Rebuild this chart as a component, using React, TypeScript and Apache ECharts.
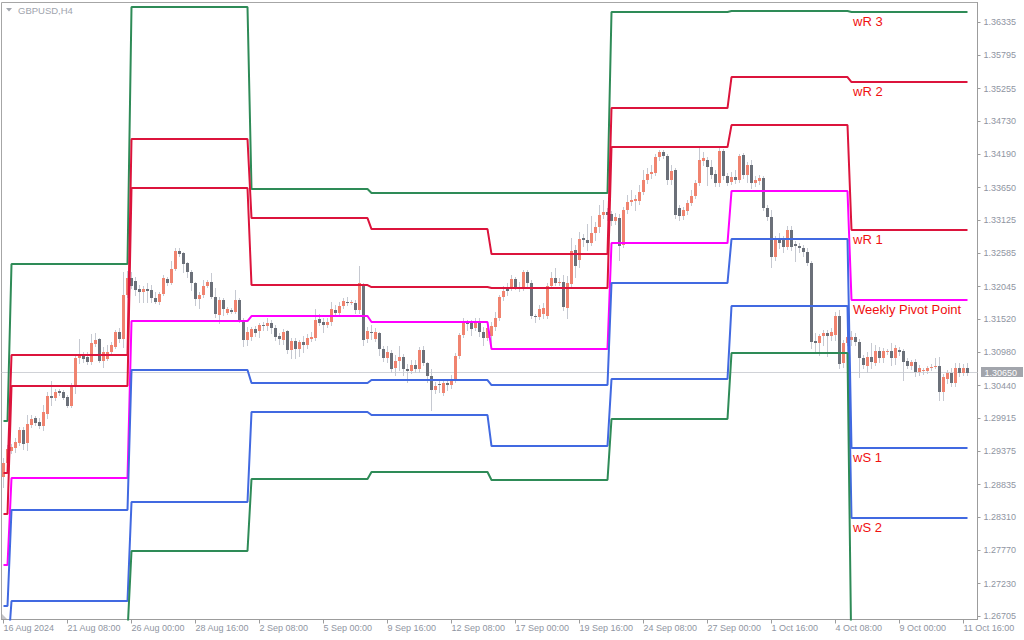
import React, { useEffect, useRef } from "react";
import * as echarts from "echarts";

// ---- time axis pieces ----
const tradingDays = ["16 Aug", "19 Aug", "20 Aug", "21 Aug", "22 Aug", "23 Aug", "26 Aug", "27 Aug", "28 Aug", "29 Aug", "30 Aug", "2 Sep", "3 Sep", "4 Sep", "5 Sep", "6 Sep", "9 Sep", "10 Sep", "11 Sep", "12 Sep", "13 Sep", "16 Sep", "17 Sep", "18 Sep", "19 Sep", "20 Sep", "23 Sep", "24 Sep", "25 Sep", "26 Sep", "27 Sep", "30 Sep", "1 Oct", "2 Oct", "3 Oct", "4 Oct", "7 Oct", "8 Oct", "9 Oct", "10 Oct", "11 Oct"];
const barHours = ["00:00", "04:00", "08:00", "12:00", "16:00", "20:00"];
const firstDayHours = ["16:00", "20:00"];
const firstLabel = "16 Aug 2024";
const emptySlots = ["", ""];

// ---- GBPUSD H4 candles ----
const opens = [
  1.2896, 1.2919, 1.2938, 1.2943, 1.2951, 1.2972, 1.2951, 1.2980, 1.2992, 1.2985,
  1.2979, 1.2998, 1.3027, 1.3024, 1.3035, 1.3034, 1.3026, 1.3011, 1.3042, 1.3089,
  1.3092, 1.3090, 1.3082, 1.3111, 1.3120, 1.3084, 1.3087, 1.3099, 1.3107, 1.3131,
  1.3120, 1.3191, 1.3219, 1.3214, 1.3201, 1.3196, 1.3201, 1.3199, 1.3186, 1.3180,
  1.3193, 1.3217, 1.3210, 1.3233, 1.3262, 1.3259, 1.3243, 1.3228, 1.3210, 1.3184,
  1.3191, 1.3206, 1.3212, 1.3188, 1.3159, 1.3183, 1.3162, 1.3167, 1.3163, 1.3183,
  1.3149, 1.3118, 1.3123, 1.3136, 1.3133, 1.3142, 1.3141, 1.3146, 1.3137, 1.3124,
  1.3118, 1.3133, 1.3102, 1.3116, 1.3103, 1.3115, 1.3110, 1.3120, 1.3121, 1.3152,
  1.3147, 1.3142, 1.3147, 1.3167, 1.3162, 1.3173, 1.3180, 1.3178, 1.3178, 1.3167,
  1.3209, 1.3120, 1.3131, 1.3120, 1.3129, 1.3103, 1.3089, 1.3097, 1.3073, 1.3084,
  1.3090, 1.3071, 1.3068, 1.3077, 1.3071, 1.3102, 1.3081, 1.3060, 1.3037, 1.3047,
  1.3032, 1.3048, 1.3045, 1.3053, 1.3092, 1.3126, 1.3146, 1.3146, 1.3137, 1.3149,
  1.3131, 1.3121, 1.3125, 1.3139, 1.3154, 1.3188, 1.3201, 1.3204, 1.3217, 1.3204,
  1.3202, 1.3228, 1.3210, 1.3157, 1.3155, 1.3160, 1.3157, 1.3206, 1.3219, 1.3210,
  1.3212, 1.3170, 1.3209, 1.3264, 1.3248, 1.3283, 1.3280, 1.3275, 1.3292, 1.3301,
  1.3321, 1.3326, 1.3322, 1.3311, 1.3316, 1.3272, 1.3329, 1.3342, 1.3343, 1.3343,
  1.3358, 1.3377, 1.3387, 1.3389, 1.3415, 1.3423, 1.3416, 1.3377, 1.3394, 1.3332,
  1.3319, 1.3327, 1.3340, 1.3352, 1.3373, 1.3408, 1.3410, 1.3398, 1.3387, 1.3373,
  1.3424, 1.3384, 1.3374, 1.3382, 1.3377, 1.3418, 1.3386, 1.3402, 1.3373, 1.3376,
  1.3381, 1.3332, 1.3317, 1.3253, 1.3283, 1.3280, 1.3269, 1.3296, 1.3274, 1.3270,
  1.3267, 1.3261, 1.3243, 1.3116, 1.3113, 1.3124, 1.3129, 1.3124, 1.3126, 1.3157,
  1.3081, 1.3113, 1.3118, 1.3123, 1.3115, 1.3089, 1.3076, 1.3090, 1.3081, 1.3100,
  1.3089, 1.3099, 1.3100, 1.3089, 1.3102, 1.3100, 1.3084, 1.3076, 1.3082, 1.3066,
  1.3068, 1.3068, 1.3073, 1.3074, 1.3076, 1.3034, 1.3055, 1.3065, 1.3048, 1.3073,
  1.3065, 1.3073,
];
const highs = [
  1.2927, 1.2948, 1.2949, 1.2959, 1.2977, 1.2977, 1.2997, 1.2997, 1.2995, 1.2992,
  1.3013, 1.3034, 1.3052, 1.3039, 1.3039, 1.3037, 1.3029, 1.3048, 1.3094, 1.3120,
  1.3099, 1.3099, 1.3128, 1.3129, 1.3121, 1.3107, 1.3110, 1.3115, 1.3134, 1.3137,
  1.3228, 1.3230, 1.3228, 1.3220, 1.3207, 1.3206, 1.3210, 1.3207, 1.3196, 1.3196,
  1.3223, 1.3220, 1.3246, 1.3267, 1.3267, 1.3261, 1.3244, 1.3232, 1.3212, 1.3196,
  1.3215, 1.3215, 1.3227, 1.3202, 1.3188, 1.3186, 1.3172, 1.3170, 1.3199, 1.3186,
  1.3154, 1.3139, 1.3139, 1.3141, 1.3146, 1.3147, 1.3154, 1.3150, 1.3142, 1.3129,
  1.3136, 1.3134, 1.3121, 1.3121, 1.3118, 1.3124, 1.3128, 1.3131, 1.3168, 1.3160,
  1.3154, 1.3154, 1.3180, 1.3175, 1.3180, 1.3186, 1.3188, 1.3183, 1.3183, 1.3238,
  1.3210, 1.3139, 1.3142, 1.3137, 1.3131, 1.3108, 1.3108, 1.3102, 1.3094, 1.3108,
  1.3095, 1.3079, 1.3086, 1.3086, 1.3107, 1.3108, 1.3082, 1.3071, 1.3050, 1.3053,
  1.3053, 1.3052, 1.3061, 1.3097, 1.3129, 1.3154, 1.3150, 1.3150, 1.3154, 1.3154,
  1.3139, 1.3147, 1.3147, 1.3163, 1.3191, 1.3206, 1.3210, 1.3223, 1.3220, 1.3212,
  1.3232, 1.3232, 1.3215, 1.3160, 1.3175, 1.3178, 1.3210, 1.3228, 1.3235, 1.3219,
  1.3223, 1.3222, 1.3283, 1.3272, 1.3293, 1.3290, 1.3306, 1.3319, 1.3309, 1.3337,
  1.3345, 1.3332, 1.3327, 1.3324, 1.3322, 1.3334, 1.3353, 1.3361, 1.3353, 1.3369,
  1.3394, 1.3397, 1.3402, 1.3420, 1.3426, 1.3426, 1.3420, 1.3402, 1.3397, 1.3337,
  1.3334, 1.3345, 1.3361, 1.3377, 1.3431, 1.3423, 1.3415, 1.3410, 1.3394, 1.3429,
  1.3428, 1.3389, 1.3390, 1.3394, 1.3420, 1.3421, 1.3407, 1.3410, 1.3384, 1.3386,
  1.3384, 1.3337, 1.3329, 1.3287, 1.3292, 1.3287, 1.3303, 1.3303, 1.3279, 1.3275,
  1.3272, 1.3267, 1.3246, 1.3129, 1.3128, 1.3134, 1.3134, 1.3137, 1.3163, 1.3167,
  1.3118, 1.3129, 1.3133, 1.3129, 1.3120, 1.3094, 1.3099, 1.3113, 1.3110, 1.3107,
  1.3105, 1.3103, 1.3113, 1.3110, 1.3107, 1.3103, 1.3089, 1.3086, 1.3087, 1.3077,
  1.3073, 1.3076, 1.3079, 1.3089, 1.3090, 1.3063, 1.3069, 1.3073, 1.3081, 1.3081,
  1.3079, 1.3081,
];
const lows = [
  1.2880, 1.2915, 1.2935, 1.2936, 1.2948, 1.2941, 1.2940, 1.2977, 1.2980, 1.2975,
  1.2972, 1.2992, 1.3013, 1.3021, 1.3029, 1.3022, 1.3010, 1.3010, 1.3032, 1.3081,
  1.3082, 1.3079, 1.3079, 1.3108, 1.3082, 1.3074, 1.3086, 1.3095, 1.3105, 1.3115,
  1.3107, 1.3188, 1.3202, 1.3191, 1.3180, 1.3180, 1.3180, 1.3180, 1.3178, 1.3176,
  1.3191, 1.3207, 1.3209, 1.3232, 1.3254, 1.3228, 1.3220, 1.3199, 1.3175, 1.3170,
  1.3188, 1.3204, 1.3186, 1.3155, 1.3146, 1.3159, 1.3160, 1.3162, 1.3162, 1.3147,
  1.3108, 1.3110, 1.3118, 1.3124, 1.3123, 1.3134, 1.3134, 1.3129, 1.3118, 1.3111,
  1.3111, 1.3097, 1.3089, 1.3089, 1.3092, 1.3099, 1.3105, 1.3116, 1.3118, 1.3142,
  1.3131, 1.3139, 1.3142, 1.3157, 1.3159, 1.3170, 1.3175, 1.3176, 1.3162, 1.3162,
  1.3110, 1.3115, 1.3120, 1.3116, 1.3094, 1.3084, 1.3082, 1.3066, 1.3061, 1.3069,
  1.3061, 1.3050, 1.3065, 1.3066, 1.3066, 1.3077, 1.3050, 1.3005, 1.3032, 1.3034,
  1.3029, 1.3037, 1.3040, 1.3050, 1.3089, 1.3123, 1.3134, 1.3126, 1.3134, 1.3124,
  1.3110, 1.3118, 1.3110, 1.3134, 1.3150, 1.3183, 1.3191, 1.3199, 1.3201, 1.3197,
  1.3199, 1.3206, 1.3154, 1.3147, 1.3152, 1.3154, 1.3154, 1.3202, 1.3207, 1.3207,
  1.3167, 1.3154, 1.3206, 1.3220, 1.3236, 1.3270, 1.3264, 1.3272, 1.3280, 1.3293,
  1.3316, 1.3313, 1.3305, 1.3306, 1.3248, 1.3269, 1.3324, 1.3337, 1.3329, 1.3339,
  1.3355, 1.3373, 1.3381, 1.3386, 1.3410, 1.3413, 1.3371, 1.3371, 1.3316, 1.3313,
  1.3314, 1.3322, 1.3337, 1.3348, 1.3369, 1.3402, 1.3369, 1.3381, 1.3368, 1.3368,
  1.3379, 1.3369, 1.3371, 1.3373, 1.3374, 1.3381, 1.3374, 1.3364, 1.3368, 1.3371,
  1.3329, 1.3313, 1.3236, 1.3248, 1.3267, 1.3261, 1.3266, 1.3264, 1.3246, 1.3261,
  1.3254, 1.3240, 1.3105, 1.3099, 1.3094, 1.3110, 1.3092, 1.3118, 1.3118, 1.3073,
  1.3074, 1.3110, 1.3110, 1.3110, 1.3058, 1.3073, 1.3066, 1.3073, 1.3077, 1.3082,
  1.3082, 1.3095, 1.3077, 1.3079, 1.3094, 1.3053, 1.3073, 1.3071, 1.3060, 1.3061,
  1.3063, 1.3065, 1.3069, 1.3073, 1.3021, 1.3021, 1.3048, 1.3044, 1.3044, 1.3060,
  1.3061, 1.3061,
];
const closes = [
  1.2919, 1.2941, 1.2945, 1.2953, 1.2972, 1.2949, 1.2982, 1.2990, 1.2984, 1.2979,
  1.3001, 1.3027, 1.3024, 1.3034, 1.3032, 1.3024, 1.3011, 1.3045, 1.3089, 1.3092,
  1.3087, 1.3082, 1.3113, 1.3118, 1.3084, 1.3099, 1.3099, 1.3110, 1.3131, 1.3120,
  1.3191, 1.3219, 1.3206, 1.3199, 1.3196, 1.3201, 1.3197, 1.3186, 1.3180, 1.3193,
  1.3219, 1.3210, 1.3233, 1.3262, 1.3257, 1.3241, 1.3228, 1.3210, 1.3184, 1.3191,
  1.3206, 1.3212, 1.3188, 1.3160, 1.3183, 1.3168, 1.3168, 1.3163, 1.3183, 1.3150,
  1.3118, 1.3131, 1.3136, 1.3129, 1.3142, 1.3141, 1.3146, 1.3137, 1.3123, 1.3120,
  1.3131, 1.3102, 1.3116, 1.3103, 1.3115, 1.3110, 1.3121, 1.3123, 1.3150, 1.3146,
  1.3142, 1.3147, 1.3168, 1.3162, 1.3173, 1.3181, 1.3178, 1.3180, 1.3167, 1.3210,
  1.3118, 1.3133, 1.3129, 1.3131, 1.3103, 1.3089, 1.3099, 1.3071, 1.3084, 1.3090,
  1.3071, 1.3068, 1.3077, 1.3071, 1.3102, 1.3081, 1.3060, 1.3037, 1.3044, 1.3045,
  1.3048, 1.3045, 1.3053, 1.3092, 1.3126, 1.3146, 1.3144, 1.3136, 1.3147, 1.3131,
  1.3121, 1.3137, 1.3141, 1.3154, 1.3188, 1.3197, 1.3197, 1.3217, 1.3204, 1.3202,
  1.3228, 1.3210, 1.3157, 1.3155, 1.3168, 1.3170, 1.3206, 1.3219, 1.3210, 1.3212,
  1.3172, 1.3210, 1.3262, 1.3238, 1.3282, 1.3280, 1.3275, 1.3292, 1.3301, 1.3321,
  1.3326, 1.3321, 1.3311, 1.3317, 1.3270, 1.3329, 1.3342, 1.3345, 1.3347, 1.3358,
  1.3377, 1.3387, 1.3390, 1.3415, 1.3423, 1.3416, 1.3377, 1.3392, 1.3321, 1.3319,
  1.3329, 1.3340, 1.3352, 1.3373, 1.3410, 1.3413, 1.3398, 1.3386, 1.3373, 1.3424,
  1.3384, 1.3373, 1.3382, 1.3377, 1.3416, 1.3386, 1.3402, 1.3373, 1.3377, 1.3381,
  1.3332, 1.3317, 1.3253, 1.3283, 1.3275, 1.3269, 1.3296, 1.3269, 1.3270, 1.3267,
  1.3261, 1.3243, 1.3115, 1.3113, 1.3124, 1.3129, 1.3124, 1.3131, 1.3157, 1.3079,
  1.3113, 1.3123, 1.3123, 1.3115, 1.3089, 1.3077, 1.3090, 1.3082, 1.3100, 1.3089,
  1.3100, 1.3100, 1.3089, 1.3105, 1.3099, 1.3082, 1.3076, 1.3082, 1.3066, 1.3073,
  1.3069, 1.3073, 1.3074, 1.3076, 1.3034, 1.3058, 1.3065, 1.3048, 1.3073, 1.3065,
  1.3073, 1.3065,
];

// ---- weekly pivot levels (one value per week) ----
const weekStarts = [0, 2, 32, 62, 92, 122, 152, 182, 212];
const wR3 = [1.29866, 1.32412, 1.36578, 1.33628, 1.33563, 1.33563, 1.36497, 1.36513, 1.36497];
const wR2 = [1.29023, 1.30936, 1.34438, 1.33157, 1.32979, 1.32574, 1.34941, 1.35443, 1.35362];
const wR1 = [1.28359, 1.30434, 1.33644, 1.32071, 1.32039, 1.32023, 1.34308, 1.34665, 1.32963];
const wPP = [1.27532, 1.28942, 1.31488, 1.31569, 1.31471, 1.31034, 1.32752, 1.33595, 1.31828];
const wS1 = [1.26867, 1.28424, 1.30693, 1.30482, 1.30531, 1.30450, 1.32104, 1.32817, 1.29429];
const wS2 = [1.26040, 1.26948, 1.28553, 1.30012, 1.29964, 1.29461, 1.30547, 1.31731, 1.28294];
const wS3 = [1.25376, 1.26446, 1.27759, 1.28926, 1.29040, 1.28910, 1.29899, 1.30969, 1.25894];

// ---- price axis ----
const priceTicks = [1.26705, 1.2723, 1.2777, 1.2831, 1.28835, 1.29375, 1.29915, 1.3044, 1.3098, 1.3152, 1.32045, 1.32585, 1.33125, 1.3365, 1.3419, 1.3473, 1.35255, 1.35795, 1.36335];
const priceMin = 1.26649;
const priceMax = 1.36652;

const FONT = "'Liberation Sans', Arial, sans-serif";
const AXIS_GRAY = "#9c9c9c";
const LABEL_GRAY = "#8f95a2";
const BULL = "#f0836f";
const BEAR = "#6b7079";
const WICK = "#c6c9d1";
const TEXT_RED = "#f01010";

export default function App() {
  const ref = useRef<HTMLDivElement>(null);

  useEffect(() => {
    if (!ref.current) return;
    const chart = echarts.init(ref.current, null, { renderer: "svg" });

    const categories: string[] = [];
    tradingDays.forEach((d, di) => {
      (di === 0 ? firstDayHours : barHours).forEach((h) => categories.push(d + " " + h));
    });
    emptySlots.forEach((s) => categories.push(s));

    const candleData = opens.map((o, i) => [i, o, closes[i], lows[i], highs[i]]);

    const weekOf = (i: number) => {
      let w = 0;
      for (let k = 0; k < weekStarts.length; k++) if (i >= weekStarts[k]) w = k;
      return w;
    };
    const levelSeries = (levels: number[]) => opens.map((_, i) => levels[weekOf(i)]);
    const lastWeek = weekStarts.length - 1;
    const labelBar = weekStarts[lastWeek];

    const pivotDefs = [
      { name: "wR 3", levels: wR3, color: "#2e8b57", label: "wR 3" },
      { name: "wR 2", levels: wR2, color: "#dc143c", label: "wR 2" },
      { name: "wR 1", levels: wR1, color: "#dc143c", label: "wR 1" },
      { name: "Pivot", levels: wPP, color: "#ff00ff", label: "Weekly Pivot Point" },
      { name: "wS 1", levels: wS1, color: "#4169e1", label: "wS 1" },
      { name: "wS 2", levels: wS2, color: "#4169e1", label: "wS 2" },
      { name: "wS 3", levels: wS3, color: "#2e8b57", label: "wS 3" },
    ];

    const lastIndex = closes.length - 1;
    const lastPrice = closes[lastIndex];

    const pivotSeries = pivotDefs.map((p) => ({
      type: "line",
      name: p.name,
      data: levelSeries(p.levels),
      symbol: "none",
      z: 4,
      clip: true,
      lineStyle: { color: p.color, width: 2 },
      itemStyle: { color: p.color },
      markPoint: {
        silent: true,
        symbol: "circle",
        symbolSize: 1,
        itemStyle: { color: "rgba(0,0,0,0)" },
        data: [
          {
            coord: [categories[labelBar], p.levels[lastWeek]],
            label: {
              show: true,
              formatter: p.label,
              position: "right",
              distance: 1,
              offset: [0, 9],
              color: TEXT_RED,
              fontSize: 13,
              fontFamily: FONT,
              textBorderWidth: 0,
            },
          },
        ],
      },
    }));

    chart.setOption({
      animation: false,
      backgroundColor: "#ffffff",
      grid: {
        left: 1.5,
        right: 46.5,
        top: 2.5,
        bottom: 20.5,
        show: true,
        borderColor: "#a6a6a6",
        borderWidth: 1,
        backgroundColor: "#ffffff",
      },
      xAxis: {
        type: "category",
        data: categories,
        boundaryGap: true,
        axisLine: { show: true, lineStyle: { color: AXIS_GRAY, width: 1 } },
        axisTick: { show: true, interval: 15, alignWithLabel: true, length: 4, lineStyle: { color: AXIS_GRAY } },
        axisLabel: {
          interval: 15,
          color: LABEL_GRAY,
          fontSize: 9,
          fontFamily: FONT,
          align: "left",
          margin: 4,
          showMinLabel: true,
          formatter: (v: string, i: number) => (i === 0 ? firstLabel : v),
        },
        splitLine: { show: false },
      },
      yAxis: {
        type: "value",
        position: "right",
        min: priceMin,
        max: priceMax,
        scale: true,
        axisLine: { show: true, lineStyle: { color: AXIS_GRAY, width: 1 } },
        axisTick: { show: true, length: 3, customValues: priceTicks, lineStyle: { color: AXIS_GRAY } },
        axisLabel: {
          customValues: priceTicks,
          formatter: (v: number) => v.toFixed(5),
          color: LABEL_GRAY,
          fontSize: 9,
          fontFamily: FONT,
          margin: 6,
        },
        splitLine: { show: false },
      },
      graphic: [
        { type: "polygon", shape: { points: [[6, 8], [12, 8], [9, 11.5]] }, style: { fill: "#a3a7ae" } },
        { type: "text", x: 18, y: 10, style: { text: "GBPUSD,H4", fill: "#a0a4ad", font: "9.5px " + FONT, textVerticalAlign: "middle" } },
        { type: "polygon", shape: { points: [[2, 619], [2, 614], [7, 619]] }, style: { fill: "#c4c4c8" } },
      ],
      series: [
        {
          // current bid line with price tag
          type: "custom",
          name: "Bid",
          z: 1,
          clip: false,
          silent: true,
          data: [[lastIndex, lastPrice]],
          encode: { x: 0, y: 1 },
          renderItem: (params: any, api: any) => {
            const cs = params.coordSys;
            const p = api.coord([api.value(0), api.value(1)]);
            const y = Math.round(p[1] - 0.5) + 0.5;
            const right = cs.x + cs.width;
            return {
              type: "group",
              children: [
                {
                  type: "line",
                  shape: { x1: cs.x, y1: y, x2: right, y2: y },
                  style: { stroke: "#d0d2d7", lineWidth: 1 },
                },
                {
                  type: "rect",
                  shape: { x: right + 3.5, y: y - 5.5, width: 42, height: 10 },
                  style: { fill: "#a2a5ac" },
                },
                {
                  type: "text",
                  x: right + 7,
                  y: y,
                  style: {
                    text: api.value(1).toFixed(5),
                    fill: "#ffffff",
                    font: "9px " + FONT,
                    textVerticalAlign: "middle",
                    textAlign: "left",
                  },
                },
              ],
            };
          },
        },
        {
          type: "custom",
          name: "GBPUSD",
          z: 2,
          clip: true,
          data: candleData,
          encode: { x: 0, y: [1, 2, 3, 4] },
          renderItem: (params: any, api: any) => {
            const i = api.value(0);
            const o = api.value(1);
            const c = api.value(2);
            const l = api.value(3);
            const h = api.value(4);
            const pO = api.coord([i, o]);
            const pC = api.coord([i, c]);
            const pL = api.coord([i, l]);
            const pH = api.coord([i, h]);
            const x = Math.round(pO[0] - 0.5) + 0.5;
            let top = Math.round(Math.min(pO[1], pC[1]));
            let bot = Math.round(Math.max(pO[1], pC[1]));
            if (bot - top < 1) bot = top + 1;
            return {
              type: "group",
              children: [
                {
                  type: "line",
                  shape: { x1: x, y1: Math.round(pH[1]), x2: x, y2: Math.round(pL[1]) + 1 },
                  style: { stroke: WICK, lineWidth: 1 },
                },
                {
                  type: "rect",
                  shape: { x: x - 1.5, y: top, width: 3, height: bot - top },
                  style: { fill: c >= o ? BULL : BEAR },
                },
              ],
            };
          },
        },
        ...pivotSeries,
      ],
    });

    return () => chart.dispose();
  }, []);

  return (
    <div
      ref={ref}
      style={{ position: "fixed", left: 0, top: 0, width: 1024, height: 640, background: "#ffffff" }}
    />
  );
}
